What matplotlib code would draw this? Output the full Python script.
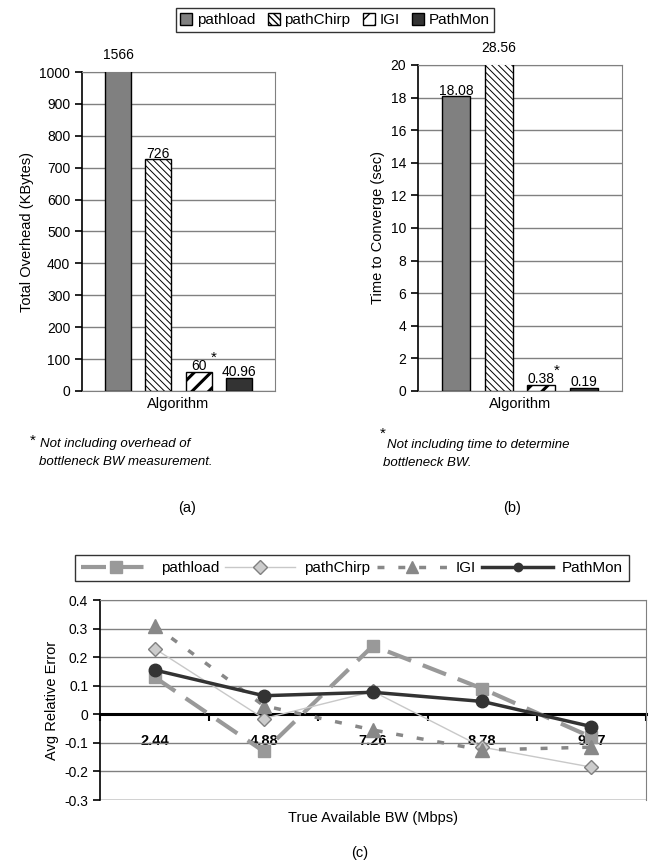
import numpy as np
import matplotlib
matplotlib.use("Agg")
import matplotlib.pyplot as plt
from matplotlib.patches import Patch
from matplotlib.lines import Line2D
from matplotlib.ticker import FuncFormatter

plt.rcParams['font.family'] = ['Liberation Sans', 'DejaVu Sans']
plt.rcParams['font.size'] = 10

# data
algos = ['pathload', 'pathChirp', 'IGI', 'PathMon']
overhead = [1566, 726, 60, 40.96]
overhead_lbl = ['1566', '726', '60', '40.96']
converge = [18.08, 28.56, 0.38, 0.19]
converge_lbl = ['18.08', '28.56', '0.38', '0.19']

bw_labels = ['2.44', '4.88', '7.26', '8.78', '9.77']
err_pathload = [0.13, -0.13, 0.24, 0.09, -0.08]
err_pathchirp = [0.23, -0.015, 0.08, -0.115, -0.185]
err_igi = [0.31, 0.03, -0.055, -0.125, -0.115]
err_pathmon = [0.155, 0.065, 0.077, 0.045, -0.043]

W, H = 649, 867
fig = plt.figure(figsize=(W / 100, H / 100), dpi=100)

def fx(px):
    return px / W

def fy(py):
    return 1 - py / H

bar_face = ['#808080', 'white', 'white', '#333333']
bar_hatch = [None, '\\\\\\\\\\', '//', None]
hatch_lw = [1.0, 0.7, 2.2, 1.0]


def bar_panel(rect, vals, lbls, ymax, step, ylabel, star_idx):
    ax = fig.add_axes(rect)
    x = np.arange(len(vals))
    for i in range(len(vals)):
        with plt.rc_context({'hatch.linewidth': hatch_lw[i], 'hatch.color': 'black'}):
            ax.bar(x[i], vals[i], width=0.65, color=bar_face[i], hatch=bar_hatch[i],
                   edgecolor='black', linewidth=1, zorder=3)
    for i, v in enumerate(vals):
        if v > ymax:
            ax.annotate(lbls[i], (x[i], ymax), xytext=(0, 7), textcoords='offset points',
                        ha='center', va='bottom', fontsize=10, annotation_clip=False)
        else:
            ax.annotate(lbls[i], (x[i], v), xytext=(0, -1), textcoords='offset points',
                        ha='center', va='bottom', fontsize=10)
    ax.annotate('*', (x[star_idx], vals[star_idx]), xytext=(11, 5), textcoords='offset points',
                ha='center', va='bottom', fontsize=11)
    ax.set_xlim(-0.9, 3.9)
    ax.set_ylim(0, ymax)
    ax.set_yticks(np.arange(0, ymax + step / 2, step))
    ax.set_xticks([])
    ax.grid(axis='y', color='#808080', linewidth=1, zorder=0)
    for s in ['top', 'right', 'bottom']:
        ax.spines[s].set_color('#808080')
    ax.spines['left'].set_color('black')
    ax.spines['left'].set_linewidth(1.2)
    ax.tick_params(axis='y', direction='out', length=5, width=1.2, labelsize=10)
    ax.set_ylabel(ylabel, fontsize=10.5)
    ax.set_xlabel('Algorithm', fontsize=10.5, labelpad=4)
    return ax


ax_a = bar_panel([fx(82), fy(391), fx(193), (391 - 72) / H], overhead, overhead_lbl,
                 1000, 100, 'Total Overhead (KBytes)', 2)
ax_b = bar_panel([fx(418), fy(391), fx(204), (391 - 65) / H], converge, converge_lbl,
                 20, 2, 'Time to Converge (sec)', 2)

# top legend
leg_handles = []
for i in range(4):
    with plt.rc_context({'hatch.linewidth': hatch_lw[i]}):
        leg_handles.append(Patch(facecolor=bar_face[i], hatch=bar_hatch[i], edgecolor='black'))
fig.legend(leg_handles, algos, loc='center', bbox_to_anchor=(fx(335), fy(20)), ncol=4,
           frameon=True, fancybox=False, edgecolor='black', fontsize=11,
           handlelength=0.8, handleheight=0.8, handletextpad=0.3, columnspacing=0.8,
           borderpad=0.3)

# footnotes
fig.text(fx(30), fy(441), '*', fontsize=11, va='center')
fig.text(fx(40), fy(444), 'Not including overhead of', fontsize=9.5, style='italic', va='center')
fig.text(fx(39), fy(462), 'bottleneck BW measurement.', fontsize=9.5, style='italic', va='center')
fig.text(fx(380), fy(434), '*', fontsize=11, va='center')
fig.text(fx(387), fy(445), 'Not including time to determine', fontsize=9.5, style='italic', va='center')
fig.text(fx(383), fy(463), 'bottleneck BW.', fontsize=9.5, style='italic', va='center')
fig.text(fx(187), fy(508), '(a)', fontsize=10.5, ha='center', va='center')
fig.text(fx(512), fy(508), '(b)', fontsize=10.5, ha='center', va='center')

# panel c
ax = fig.add_axes([fx(100), fy(800), fx(546), 200 / H])
x = np.arange(len(bw_labels))
ax.plot(x, err_pathload, color='#999999', linewidth=3, dashes=(6, 3), marker='s',
        markersize=8, markerfacecolor='#999999', markeredgecolor='#999999',
        label='pathload', zorder=3)
ax.plot(x, err_pathchirp, color='#c8c8c8', linewidth=1, marker='D', markersize=7,
        markerfacecolor='#cccccc', markeredgecolor='#808080', label='pathChirp', zorder=4)
ax.plot(x, err_igi, color='#888888', linewidth=2.5, dashes=(2, 4), marker='^',
        markersize=10, markerfacecolor='#888888', markeredgecolor='#888888',
        label='IGI', zorder=5)
ax.plot(x, err_pathmon, color='#333333', linewidth=2.5, marker='o', markersize=9,
        markerfacecolor='#333333', markeredgecolor='#333333', label='PathMon', zorder=6)
ax.set_xlim(-0.5, 4.5)
ax.set_ylim(-0.3, 0.4)
ax.set_yticks(np.arange(-0.3, 0.41, 0.1))
ax.yaxis.set_major_formatter(FuncFormatter(lambda v, p: '0' if abs(v) < 1e-9 else '%.1f' % v))
ax.grid(axis='y', color='#808080', linewidth=1, zorder=0)
ax.spines['bottom'].set_position(('data', 0))
ax.spines['bottom'].set_linewidth(2.2)
ax.spines['bottom'].set_zorder(2)
ax.spines['left'].set_linewidth(1.2)
for s in ['top', 'right']:
    ax.spines[s].set_color('#808080')
ax.axhline(-0.3, color='#808080', linewidth=1, zorder=0)
ax.set_xticks(x)
ax.set_xticklabels(bw_labels, fontweight='bold', fontsize=10.5)
ax.set_xticks(np.arange(-0.5, 4.6, 1), minor=True)
ax.tick_params(axis='x', which='major', length=0, pad=14)
ax.tick_params(axis='x', which='minor', direction='out', length=5, width=1.5)
ax.tick_params(axis='y', direction='out', length=5, width=1.2, labelsize=10)
ax.set_ylabel('Avg Relative Error', fontsize=10.5)

h_c = [
    Line2D([], [], color='#999999', linewidth=3, dashes=(6, 3), marker='s', markersize=8,
           markerfacecolor='#999999', markeredgecolor='#999999'),
    Line2D([], [], color='#c8c8c8', linewidth=1, marker='D', markersize=7,
           markerfacecolor='#cccccc', markeredgecolor='#808080'),
    Line2D([], [], color='#888888', linewidth=2.5, dashes=(2, 4), marker='^', markersize=8,
           markerfacecolor='#888888', markeredgecolor='#888888'),
    Line2D([], [], color='#333333', linewidth=2.5, marker='o', markersize=6,
           markerfacecolor='#333333', markeredgecolor='#333333'),
]
fig.legend(h_c, algos, loc='center', bbox_to_anchor=(fx(352), fy(568)), ncol=4,
           frameon=True, fancybox=False, edgecolor='black', fontsize=11,
           handlelength=4.6, handletextpad=0.6, columnspacing=0.4, borderpad=0.4)

fig.text(fx(373), fy(818), 'True Available BW (Mbps)', fontsize=10.5, ha='center', va='center')
fig.text(fx(360), fy(853), '(c)', fontsize=10.5, ha='center', va='center')

fig.savefig('out.png', dpi=100)
